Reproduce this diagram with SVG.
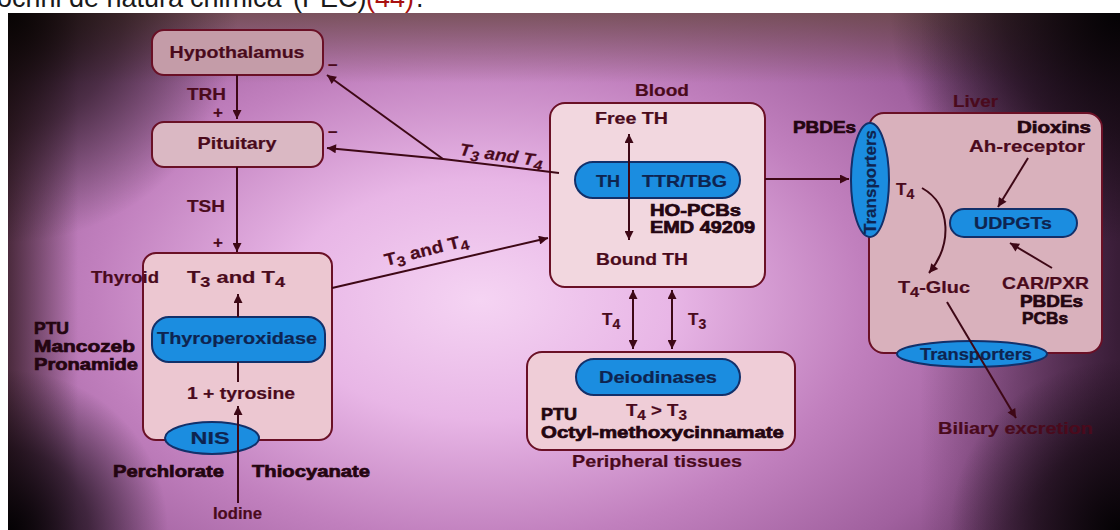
<svg xmlns="http://www.w3.org/2000/svg" width="1120" height="530" viewBox="0 0 1120 530">
<defs>
<radialGradient id="bg" cx="480" cy="300" r="640" gradientUnits="userSpaceOnUse" gradientTransform="translate(480 300) scale(1 0.62) translate(-480 -300)">
<stop offset="0" stop-color="#f5d4f3"/>
<stop offset="0.3" stop-color="#e8b6e6"/>
<stop offset="0.6" stop-color="#c180be"/>
<stop offset="0.85" stop-color="#a0609e"/>
<stop offset="1" stop-color="#80487e"/>
</radialGradient>
<linearGradient id="topShade" x1="0" y1="0" x2="0" y2="1">
<stop offset="0" stop-color="#6a4a44" stop-opacity="0.75"/>
<stop offset="1" stop-color="#6a4a44" stop-opacity="0"/>
</linearGradient>
<linearGradient id="leftShade" x1="0" y1="0" x2="1" y2="0">
<stop offset="0" stop-color="#2a1418" stop-opacity="0.75"/>
<stop offset="1" stop-color="#2a1418" stop-opacity="0"/>
</linearGradient>
<linearGradient id="rightShade" x1="0" y1="0" x2="1" y2="0">
<stop offset="0" stop-color="#1a0a18" stop-opacity="0"/>
<stop offset="1" stop-color="#1a0a18" stop-opacity="0.7"/>
</linearGradient>
<radialGradient id="cornerTL" cx="8" cy="13" r="230" gradientUnits="userSpaceOnUse">
<stop offset="0" stop-color="#080404" stop-opacity="1"/>
<stop offset="0.5" stop-color="#100808" stop-opacity="0.6"/>
<stop offset="1" stop-color="#100808" stop-opacity="0"/>
</radialGradient>
<radialGradient id="cornerTR" cx="1120" cy="13" r="230" gradientUnits="userSpaceOnUse">
<stop offset="0" stop-color="#040204" stop-opacity="1"/>
<stop offset="0.5" stop-color="#0a0408" stop-opacity="0.6"/>
<stop offset="1" stop-color="#0a0408" stop-opacity="0"/>
</radialGradient>
<radialGradient id="cornerBL" cx="8" cy="530" r="160" gradientUnits="userSpaceOnUse">
<stop offset="0" stop-color="#040204" stop-opacity="1"/>
<stop offset="0.5" stop-color="#0a0408" stop-opacity="0.65"/>
<stop offset="1" stop-color="#0a0408" stop-opacity="0"/>
</radialGradient>
<radialGradient id="cornerBR" cx="1120" cy="530" r="170" gradientUnits="userSpaceOnUse">
<stop offset="0" stop-color="#040204" stop-opacity="1"/>
<stop offset="0.5" stop-color="#0a0408" stop-opacity="0.6"/>
<stop offset="1" stop-color="#0a0408" stop-opacity="0"/>
</radialGradient>
<marker id="ah" viewBox="0 0 10 10" refX="10" refY="5" markerWidth="11" markerHeight="9" markerUnits="userSpaceOnUse" orient="auto-start-reverse">
<path d="M0,0 L10,5 L0,10 z" fill="#3e0816"/>
</marker>
<style>
.box{stroke:#6a1026;stroke-width:2}
.blue{fill:#1b8de0;stroke:#12306a;stroke-width:2}
.ln{fill:none;stroke:#3e0816;stroke-width:2}
.lab{font-family:"Liberation Sans",Arial,sans-serif;font-size:17px;font-weight:bold;fill:#4a0a1c;stroke:#4a0a1c;stroke-width:0.2}
.bld{font-family:"Liberation Sans",Arial,sans-serif;font-size:17px;font-weight:bold;fill:#240510;stroke:#240510;stroke-width:0.7}
.bt{font-family:"Liberation Sans",Arial,sans-serif;font-size:17px;font-weight:bold;fill:#0e2450;stroke:#0e2450;stroke-width:0.2}
.sub{font-size:14px}
.mid{text-anchor:middle}
.hdr{font-family:"Liberation Sans",Arial,sans-serif;font-size:27px;fill:#1a1a1a}
</style>
</defs>

<g id="background">
<rect x="0" y="0" width="1120" height="530" fill="#ffffff"/>
<rect x="8" y="13" width="1112" height="517" fill="url(#bg)"/>
<rect x="8" y="13" width="1112" height="70" fill="url(#topShade)"/>
<rect x="8" y="13" width="70" height="517" fill="url(#leftShade)"/>
<rect x="920" y="13" width="200" height="517" fill="url(#rightShade)"/>
<rect x="8" y="13" width="1112" height="517" fill="url(#cornerTL)"/>
<rect x="8" y="13" width="1112" height="517" fill="url(#cornerTR)"/>
<rect x="8" y="13" width="1112" height="517" fill="url(#cornerBL)"/>
<rect x="8" y="13" width="1112" height="517" fill="url(#cornerBR)"/>
<text class="hdr" x="183" y="7" text-anchor="end">endocrini de natura</text>
<text class="hdr" x="190" y="7">chimica</text>
<text class="hdr" x="293" y="7">(PEC)</text>
<text class="hdr" x="366" y="7" fill="#a81010" style="fill:#a81010">(44)</text>
<text class="hdr" x="416" y="7">.</text>
</g>

<g id="hypothalamus">
<rect class="box" x="152" y="30" width="171" height="45" rx="12" fill="#c49ca8"/>
<text class="lab mid" x="237" y="58" textLength="135" lengthAdjust="spacingAndGlyphs">Hypothalamus</text>
<text class="lab" x="328" y="70" font-size="20">–</text>
</g>

<g id="pituitary">
<rect class="box" x="152" y="122" width="171" height="45" rx="12" fill="#dab8c3"/>
<text class="lab mid" x="237" y="149" textLength="79" lengthAdjust="spacingAndGlyphs">Pituitary</text>
<text class="lab" x="328" y="137" font-size="20">–</text>
</g>

<g id="thyroid">
<rect class="box" x="143" y="253" width="189" height="187" rx="13" fill="#ecc7d1"/>
<text class="lab" x="91" y="283" textLength="68" lengthAdjust="spacingAndGlyphs">Thyroid</text>
<text class="lab" x="187" y="283" font-size="20" textLength="98" lengthAdjust="spacingAndGlyphs">T<tspan class="sub" dy="4">3</tspan><tspan dy="-4"> and T</tspan><tspan class="sub" dy="4">4</tspan></text>
<rect class="blue" x="152" y="317" width="173" height="45" rx="17"/>
<text class="bt mid" x="237" y="344" textLength="160" lengthAdjust="spacingAndGlyphs">Thyroperoxidase</text>
<text class="lab" x="187" y="399" textLength="108" lengthAdjust="spacingAndGlyphs">1 + tyrosine</text>
<ellipse class="blue" cx="212" cy="438" rx="47" ry="16"/>
<text class="bt mid" x="210" y="444" textLength="39" lengthAdjust="spacingAndGlyphs">NIS</text>
<text class="bld" x="113" y="477" textLength="111" lengthAdjust="spacingAndGlyphs">Perchlorate</text>
<text class="bld" x="252" y="477" textLength="118" lengthAdjust="spacingAndGlyphs">Thiocyanate</text>
<text class="lab" x="213" y="519" textLength="49" lengthAdjust="spacingAndGlyphs">Iodine</text>
<text class="bld" x="34" y="334" textLength="35" lengthAdjust="spacingAndGlyphs">PTU</text>
<text class="bld" x="34" y="352" textLength="101" lengthAdjust="spacingAndGlyphs">Mancozeb</text>
<text class="bld" x="34" y="370" textLength="104" lengthAdjust="spacingAndGlyphs">Pronamide</text>
</g>

<g id="blood">
<text class="lab" x="635" y="96" textLength="54" lengthAdjust="spacingAndGlyphs">Blood</text>
<rect class="box" x="550" y="103" width="215" height="184" rx="15" fill="#f2d7df"/>
<text class="lab" x="595" y="124" textLength="73" lengthAdjust="spacingAndGlyphs">Free TH</text>
<rect class="blue" x="575" y="162" width="165" height="36" rx="18"/>
<text class="bt" x="596" y="187" textLength="24" lengthAdjust="spacingAndGlyphs">TH</text>
<text class="bt" x="642" y="187" textLength="85" lengthAdjust="spacingAndGlyphs">TTR/TBG</text>
<text class="bld" x="650" y="216" textLength="91" lengthAdjust="spacingAndGlyphs">HO-PCBs</text>
<text class="bld" x="650" y="233" textLength="105" lengthAdjust="spacingAndGlyphs">EMD 49209</text>
<text class="lab" x="596" y="265" textLength="92" lengthAdjust="spacingAndGlyphs">Bound TH</text>
</g>

<g id="peripheral">
<rect class="box" x="527" y="352" width="268" height="98" rx="15" fill="#efcdd7"/>
<rect class="blue" x="576" y="359" width="164" height="36" rx="18"/>
<text class="bt" x="599" y="383" textLength="118" lengthAdjust="spacingAndGlyphs">Deiodinases</text>
<text class="lab" x="626" y="416" font-size="20" textLength="61" lengthAdjust="spacingAndGlyphs">T<tspan class="sub" dy="4">4</tspan><tspan dy="-4"> &gt; T</tspan><tspan class="sub" dy="4">3</tspan></text>
<text class="bld" x="541" y="420" textLength="36" lengthAdjust="spacingAndGlyphs">PTU</text>
<text class="bld" x="541" y="438" textLength="243" lengthAdjust="spacingAndGlyphs">Octyl-methoxycinnamate</text>
<text class="lab" x="572" y="467" textLength="170" lengthAdjust="spacingAndGlyphs">Peripheral tissues</text>
</g>

<g id="liver">
<text class="lab" x="953" y="107" textLength="45" lengthAdjust="spacingAndGlyphs">Liver</text>
<rect class="box" x="869" y="113" width="233" height="240" rx="15" fill="#d9b1bc"/>
<text class="bld" x="793" y="133" textLength="63" lengthAdjust="spacingAndGlyphs">PBDEs</text>
<ellipse class="blue" cx="870" cy="180" rx="19" ry="57"/>
<text class="bt mid" transform="translate(876 182) rotate(-90)" textLength="104" lengthAdjust="spacingAndGlyphs">Transporters</text>
<text class="lab" x="896" y="195" font-size="19">T<tspan class="sub" dy="4">4</tspan></text>
<text class="bld" x="1017" y="133" textLength="74" lengthAdjust="spacingAndGlyphs">Dioxins</text>
<text class="lab" x="969" y="152" textLength="116" lengthAdjust="spacingAndGlyphs">Ah-receptor</text>
<rect class="blue" x="950" y="209" width="127" height="28" rx="14"/>
<text class="bt" x="974" y="229" textLength="78" lengthAdjust="spacingAndGlyphs">UDPGTs</text>
<text class="lab" x="898" y="293" font-size="19" textLength="72" lengthAdjust="spacingAndGlyphs">T<tspan class="sub" dy="4">4</tspan><tspan dy="-4">-Gluc</tspan></text>
<text class="lab" x="1002" y="289" textLength="87" lengthAdjust="spacingAndGlyphs">CAR/PXR</text>
<text class="bld" x="1020" y="307" textLength="63" lengthAdjust="spacingAndGlyphs">PBDEs</text>
<text class="bld" x="1022" y="324" textLength="46" lengthAdjust="spacingAndGlyphs">PCBs</text>
<ellipse class="blue" cx="972" cy="354" rx="75" ry="13"/>
<text class="bt mid" x="976" y="360" textLength="112" lengthAdjust="spacingAndGlyphs">Transporters</text>
<text class="lab" x="938" y="434" textLength="155" lengthAdjust="spacingAndGlyphs">Biliary excretion</text>
</g>

<g id="connectors">
<text class="lab" x="187" y="100" textLength="39" lengthAdjust="spacingAndGlyphs">TRH</text>
<text class="lab" x="213" y="118" font-size="15">+</text>
<text class="lab" x="187" y="212" textLength="38" lengthAdjust="spacingAndGlyphs">TSH</text>
<text class="lab" x="213" y="248" font-size="15">+</text>
<path class="ln" d="M237 75 L237 119" marker-end="url(#ah)"/>
<path class="ln" d="M237 167 L237 252" marker-end="url(#ah)"/>
<path class="ln" d="M559 173 L443 159 L327 148" marker-end="url(#ah)"/>
<path class="ln" d="M443 159 L327 75" marker-end="url(#ah)"/>
<text class="lab" font-style="italic" font-size="20" transform="translate(459 155) rotate(8)" textLength="84" lengthAdjust="spacingAndGlyphs">T<tspan class="sub" dy="4">3</tspan><tspan dy="-4"> and T</tspan><tspan class="sub" dy="4">4</tspan></text>
<path class="ln" d="M332 288 L548 238" marker-end="url(#ah)"/>
<text class="lab" font-size="20" transform="translate(386 266) rotate(-14)" textLength="86" lengthAdjust="spacingAndGlyphs">T<tspan class="sub" dy="4">3</tspan><tspan dy="-4"> and T</tspan><tspan class="sub" dy="4">4</tspan></text>
<path class="ln" d="M238 317 L238 294" marker-end="url(#ah)"/>
<path class="ln" d="M238 382 L238 362"/>
<path class="ln" d="M238 503 L238 406" marker-end="url(#ah)"/>
<path class="ln" d="M629 134 L629 240" marker-start="url(#ah)" marker-end="url(#ah)"/>
<path class="ln" d="M765 179 L849 179" marker-end="url(#ah)"/>
<path class="ln" d="M633 290 L633 349" marker-start="url(#ah)" marker-end="url(#ah)"/>
<path class="ln" d="M672 290 L672 349" marker-start="url(#ah)" marker-end="url(#ah)"/>
<text class="lab" x="602" y="325" font-size="20">T<tspan class="sub" dy="4">4</tspan></text>
<text class="lab" x="688" y="325" font-size="20">T<tspan class="sub" dy="4">3</tspan></text>
<path class="ln" d="M922 188 C952 205 952 245 929 273" marker-end="url(#ah)"/>
<path class="ln" d="M1028 158 L998 207" marker-end="url(#ah)"/>
<path class="ln" d="M1052 268 L1010 243" marker-end="url(#ah)"/>
<path class="ln" d="M947 302 L1016 418" marker-end="url(#ah)"/>
</g>
</svg>
